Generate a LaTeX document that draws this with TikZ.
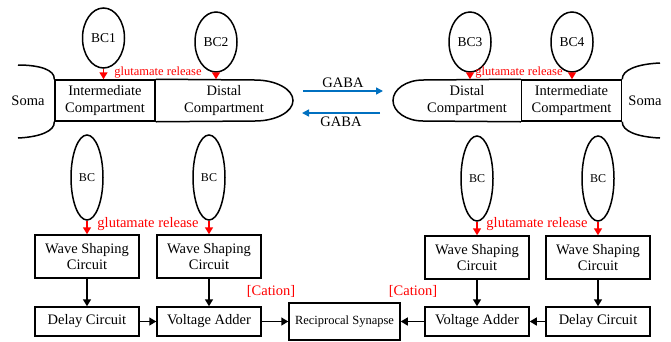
\documentclass[tikz,border=0pt]{standalone}
\usepackage{fontspec}
\setmainfont{Liberation Serif}
\usetikzlibrary{positioning,shapes.geometric,arrows.meta}

\definecolor{gabablue}{RGB}{0,112,192}

\tikzset{
  outline/.style={line width=1.5pt},
  comp/.style={draw, line width=1.5pt, minimum width=100pt, minimum height=41pt,
    align=center, inner sep=0pt, font=\fontsize{14.5}{16.5}\selectfont},
  bctop/.style={draw, ellipse, line width=1.5pt, minimum width=42pt, minimum height=60pt,
    inner sep=0pt, font=\fontsize{13.5}{14}\selectfont},
  bclow/.style={draw, ellipse, line width=1.5pt, minimum width=32pt, minimum height=85pt,
    inner sep=0pt, font=\fontsize{12}{13}\selectfont},
  circuit/.style={draw, line width=1.5pt, minimum width=104pt, minimum height=43pt,
    align=center, inner sep=1pt, font=\fontsize{14.5}{16.5}\selectfont},
  flat/.style={circuit, minimum height=29pt},
  txt/.style={inner sep=0pt, align=center, font=\fontsize{14.5}{16.5}\selectfont},
  redtxt/.style={txt, text=red},
  glu/.style={red, line width=1.5pt, -{Triangle[length=7pt,width=8pt]}},
  sig/.style={black, line width=1.5pt, -{Triangle[length=7pt,width=8pt]}},
  gaba/.style={gabablue, line width=1.5pt, -{Triangle[length=7pt,width=7pt]}}
}

\begin{document}
\begin{tikzpicture}[x=1pt, y=-1pt]
\useasboundingbox (0,0) rectangle (671,341);

% left neuron
\node[comp] (interL) at (105,100.5) {Intermediate\\Compartment};
\node[txt] (distL) at (224,100.5) {Distal\\Compartment};
\node[txt] (somaL) at (28,101) {Soma};
\draw[outline] (interL.north east) -- (255,80) .. controls (276,80) and (293,89.2) .. (293,100.5)
  .. controls (293,111.8) and (276,121) .. (255,121) -- (interL.south east);
\draw[outline] (18,65) .. controls (40,65) and (55,70) .. (interL.north west);
\draw[outline] (interL.south west) .. controls (55,131) and (40,137) .. (18,138);

\node[bctop] (bc1) at (103.5,38) {BC1};
\node[bctop] (bc2) at (216,42) {BC2};
\draw[glu] (bc1) -- (bc1 |- interL.north);
\draw[glu] (bc2) -- (bc2 |- interL.north);
\node[redtxt, font=\fontsize{12.5}{13}\selectfont] (gluL) at (158,73) {glutamate release};

% right neuron
\node[comp] (interR) at (571.5,100.5) {Intermediate\\Compartment};
\node[txt] (distR) at (467,100.5) {Distal\\Compartment};
\node[txt] (somaR) at (645,101) {Soma};
\draw[outline] (interR.north west) -- (423,80) .. controls (406.4,80) and (393,89.2) .. (393,100.5)
  .. controls (393,111.8) and (406.4,121) .. (423,121) -- (interR.south west);
\draw[outline] (interR.north east) .. controls (622,70) and (637,64) .. (660,63);
\draw[outline] (interR.south east) .. controls (622,131) and (637,137) .. (660,138);

\node[bctop] (bc3) at (470,42) {BC3};
\node[bctop] (bc4) at (572,42) {BC4};
\draw[glu] (bc3) -- (bc3 |- interR.north);
\draw[glu] (bc4) -- (bc4 |- interR.north);
\node[redtxt, font=\fontsize{12.5}{13}\selectfont] (gluR) at (519,73) {glutamate release};

% GABA between the two
\coordinate (gabaA) at (303,91);
\coordinate (gabaB) at (383,91);
\coordinate (gabaC) at (380,113);
\coordinate (gabaD) at (302,113);
\draw[gaba] (gabaA) -- (gabaB) node[txt, midway, above=3pt, text=black] (gabaTop) {GABA};
\draw[gaba] (gabaC) -- (gabaD) node[txt, midway, below=3pt, text=black] (gabaBot) {GABA};

% circuit, left half
\node[circuit] (wsA) at (87,256.5) {Wave Shaping\\Circuit};
\node[circuit, right=16.5pt of wsA] (wsB) {Wave Shaping\\Circuit};
\node[flat, below=27.5pt of wsA] (dcA) {Delay Circuit};
\node[flat, below=27.5pt of wsB] (vaA) {Voltage Adder};
\node[bclow, above=13.5pt of wsA] (bcA) {BC};
\node[bclow, above=13.5pt of wsB] (bcB) {BC};
\node[draw, line width=1.5pt, minimum width=111pt, minimum height=37pt,
  font=\fontsize{12.5}{13}\selectfont, right=26.5pt of vaA] (rs) {Reciprocal Synapse};

% circuit, right half
\node[flat, right=23.5pt of rs] (vaR) {Voltage Adder};
\node[flat, right=15.5pt of vaR] (dcR) {Delay Circuit};
\node[circuit, above=26.5pt of vaR] (wsC) {Wave Shaping\\Circuit};
\node[circuit, above=26.5pt of dcR] (wsD) {Wave Shaping\\Circuit};
\node[bclow, above=13.5pt of wsC] (bcC) {BC};
\node[bclow, above=13.5pt of wsD] (bcD) {BC};

\draw[glu] (bcA) -- (wsA);
\draw[glu] (bcB) -- (wsB);
\draw[glu] (bcC) -- (wsC);
\draw[glu] (bcD) -- (wsD);
\node[redtxt] (gluA) at (148,224) {glutamate release};
\node[redtxt] (gluB) at (537,224) {glutamate release};

\draw[sig] (wsA) -- (dcA);
\draw[sig] (wsB) -- (vaA);
\draw[sig] (dcA) -- (vaA);
\draw[sig] (vaA) -- (rs);
\draw[sig] (wsC) -- (vaR);
\draw[sig] (wsD) -- (dcR);
\draw[sig] (dcR) -- (vaR);
\draw[sig] (vaR) -- (rs);

\node[redtxt] (catA) at (271,291) {[Cation]};
\node[redtxt] (catB) at (413,291) {[Cation]};

\end{tikzpicture}
\end{document}
